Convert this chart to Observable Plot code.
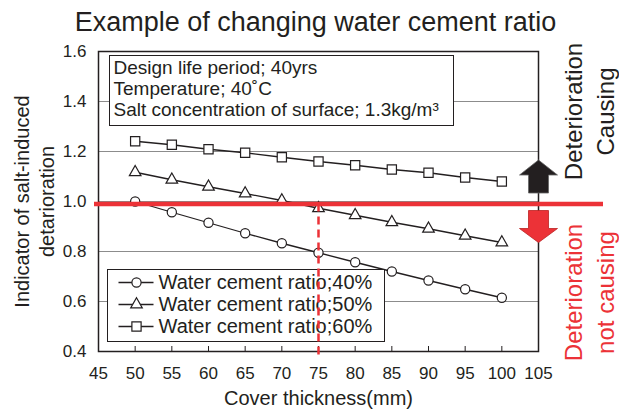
<!DOCTYPE html>
<html><head><meta charset="utf-8">
<script src="https://cdn.jsdelivr.net/npm/d3@7"></script>
<script src="https://cdn.jsdelivr.net/npm/@observablehq/plot@0.6"></script>
<style>
body{margin:0;background:#fff}
svg{font-family:"Liberation Sans",Arial,Helvetica,sans-serif}
</style>
</head><body><div id="chart"></div>
<script>
const cover = [50, 55, 60, 65, 70, 75, 80, 85, 90, 95, 100];
const wc40 = [1.000, 0.957, 0.915, 0.873, 0.833, 0.795, 0.757, 0.720, 0.684, 0.649, 0.615];
const wc50 = [1.117, 1.087, 1.059, 1.032, 1.004, 0.973, 0.945, 0.917, 0.891, 0.863, 0.836];
const wc60 = [1.241, 1.227, 1.209, 1.195, 1.177, 1.160, 1.145, 1.128, 1.115, 1.096, 1.080];
const seriesNames = ["Water cement ratio;40%", "Water cement ratio;50%", "Water cement ratio;60%"];
const seriesSymbols = ["circle", "triangle", "square"];
const xTicks = [45, 50, 55, 60, 65, 70, 75, 80, 85, 90, 95, 100, 105];
const yTicks = [0.4, 0.6, 0.8, 1.0, 1.2, 1.4, 1.6];
const threshold = 0.99;
const checkCover = 75;
const arrowUpY = 1.1;
const arrowDownY = 0.9;
const upTextY = 1.36;
const downTextY = 0.636;
const title = "Example of changing water cement ratio";
const conditions = ["Design life period; 40yrs", "Temperature; 40˚C", "Salt concentration of surface; 1.3kg/m³"];
const yLabel = ["Indicator of salt-induced", "detarioration"];
const xLabel = "Cover thickness(mm)";
const upText = ["Deterioration", "Causing"];
const downText = ["Deterioration", "not causing"];

const ink = "#231f20";
const red = "#ec3237";
const seriesValues = [wc40, wc50, wc60];
const symbolR = {circle: 4.6, triangle: 4.3, square: 5.2};

const arrowUp = {draw(c) {
  c.moveTo(0, -16.5); c.lineTo(19, -1.5); c.lineTo(10, -1.5); c.lineTo(10, 16.5);
  c.lineTo(-10, 16.5); c.lineTo(-10, -1.5); c.lineTo(-19, -1.5); c.closePath();
}};
const arrowDown = {draw(c) {
  c.moveTo(0, 16); c.lineTo(19, 2); c.lineTo(10, 2); c.lineTo(10, -16);
  c.lineTo(-10, -16); c.lineTo(-10, 2); c.lineTo(-19, 2); c.closePath();
}};
const legendLine = {draw(c) { c.moveTo(-18, 0); c.lineTo(17, 0); }};

const marks = [];
marks.push(Plot.ruleY(yTicks.slice(1, -1), {stroke: "#8c8c8c", strokeWidth: 1}));
// conditions box
marks.push(Plot.frame({insetLeft: 11, insetTop: 4, insetRight: 85, insetBottom: 226, fill: "white", stroke: ink, strokeWidth: 1}));
marks.push(Plot.text([conditions.join("\n")], {frameAnchor: "top-left", dx: 15, dy: 8, textAnchor: "start", lineAnchor: "top", fontSize: 19, lineHeight: 1.1, fill: ink}));
// data
seriesValues.forEach((vals, s) => {
  const data = cover.map((c, i) => ({x: c, y: vals[i]}));
  marks.push(Plot.line(data, {x: "x", y: "y", stroke: ink, strokeWidth: 1.3}));
  marks.push(Plot.dot(data, {x: "x", y: "y", symbol: seriesSymbols[s], r: symbolR[seriesSymbols[s]], fill: "white", stroke: ink, strokeWidth: 1.2}));
});
// legend
marks.push(Plot.frame({insetLeft: 9, insetTop: 218, insetRight: 154, insetBottom: 10, fill: "white", stroke: ink, strokeWidth: 1}));
seriesNames.forEach((name, s) => {
  const dy = 231 + 22 * s;
  marks.push(Plot.dot([name], {frameAnchor: "top-left", dx: 38, dy, symbol: legendLine, r: 1, fill: "none", stroke: ink, strokeWidth: 1.3}));
  marks.push(Plot.dot([name], {frameAnchor: "top-left", dx: 38, dy, symbol: seriesSymbols[s], r: symbolR[seriesSymbols[s]], fill: "white", stroke: ink, strokeWidth: 1.2}));
  marks.push(Plot.text([name], {frameAnchor: "top-left", dx: 60, dy, textAnchor: "start", lineAnchor: "middle", fontSize: 20, fill: ink}));
});
marks.push(Plot.frame({stroke: ink, strokeWidth: 1.5}));
marks.push(Plot.axisX(xTicks, {tickSize: -5, tickPadding: 20, fontSize: 17, label: null, stroke: ink, fill: ink}));
marks.push(Plot.axisY(yTicks, {tickSize: 0, tickPadding: 12, fontSize: 17, tickFormat: d3.format(".1f"), label: null, fill: ink}));
// thresholds
marks.push(Plot.ruleX([checkCover], {y1: threshold, y2: yTicks[0], insetBottom: -7, stroke: red, strokeWidth: 2.5, strokeDasharray: "8,5"}));
marks.push(Plot.ruleY([threshold], {stroke: red, strokeWidth: 4.5, insetLeft: -4, insetRight: -65}));
// arrows
marks.push(Plot.dot([arrowUpY], {y: d => d, frameAnchor: "right", symbol: arrowUp, r: 1, fill: ink, stroke: "#666", strokeWidth: 0.8}));
marks.push(Plot.dot([arrowDownY], {y: d => d, frameAnchor: "right", symbol: arrowDown, r: 1, fill: red, stroke: "#b22", strokeWidth: 0.8}));
// texts
marks.push(Plot.text([upText.join("\n")], {y: () => upTextY, frameAnchor: "right", dx: 49, rotate: -90, textAnchor: "middle", lineAnchor: "middle", fontSize: 24, lineHeight: 1.36, fill: ink}));
marks.push(Plot.text([downText.join("\n")], {y: () => downTextY, frameAnchor: "right", dx: 49, rotate: -90, textAnchor: "middle", lineAnchor: "middle", fontSize: 24, lineHeight: 1.36, fill: red}));
marks.push(Plot.text([yLabel.join("\n")], {frameAnchor: "left", dx: -65.5, rotate: -90, textAnchor: "middle", lineAnchor: "middle", fontSize: 20, lineHeight: 1.25, fill: ink}));
marks.push(Plot.text([xLabel], {frameAnchor: "bottom", dy: 47, lineAnchor: "middle", fontSize: 20, fill: ink}));
marks.push(Plot.text([title], {frameAnchor: "top", dy: -29, dx: -3, lineAnchor: "middle", fontSize: 27, fill: ink}));

const chart = Plot.plot({
  width: 619, height: 414,
  marginTop: 51, marginBottom: 63, marginLeft: 98, marginRight: 81,
  x: {domain: [45, 105]},
  y: {domain: [0.4, 1.6]},
  style: {fontFamily: '"Liberation Sans", Arial, Helvetica, sans-serif', background: "white", color: ink},
  marks
});
document.getElementById("chart").appendChild(chart);
</script>
</body></html>
